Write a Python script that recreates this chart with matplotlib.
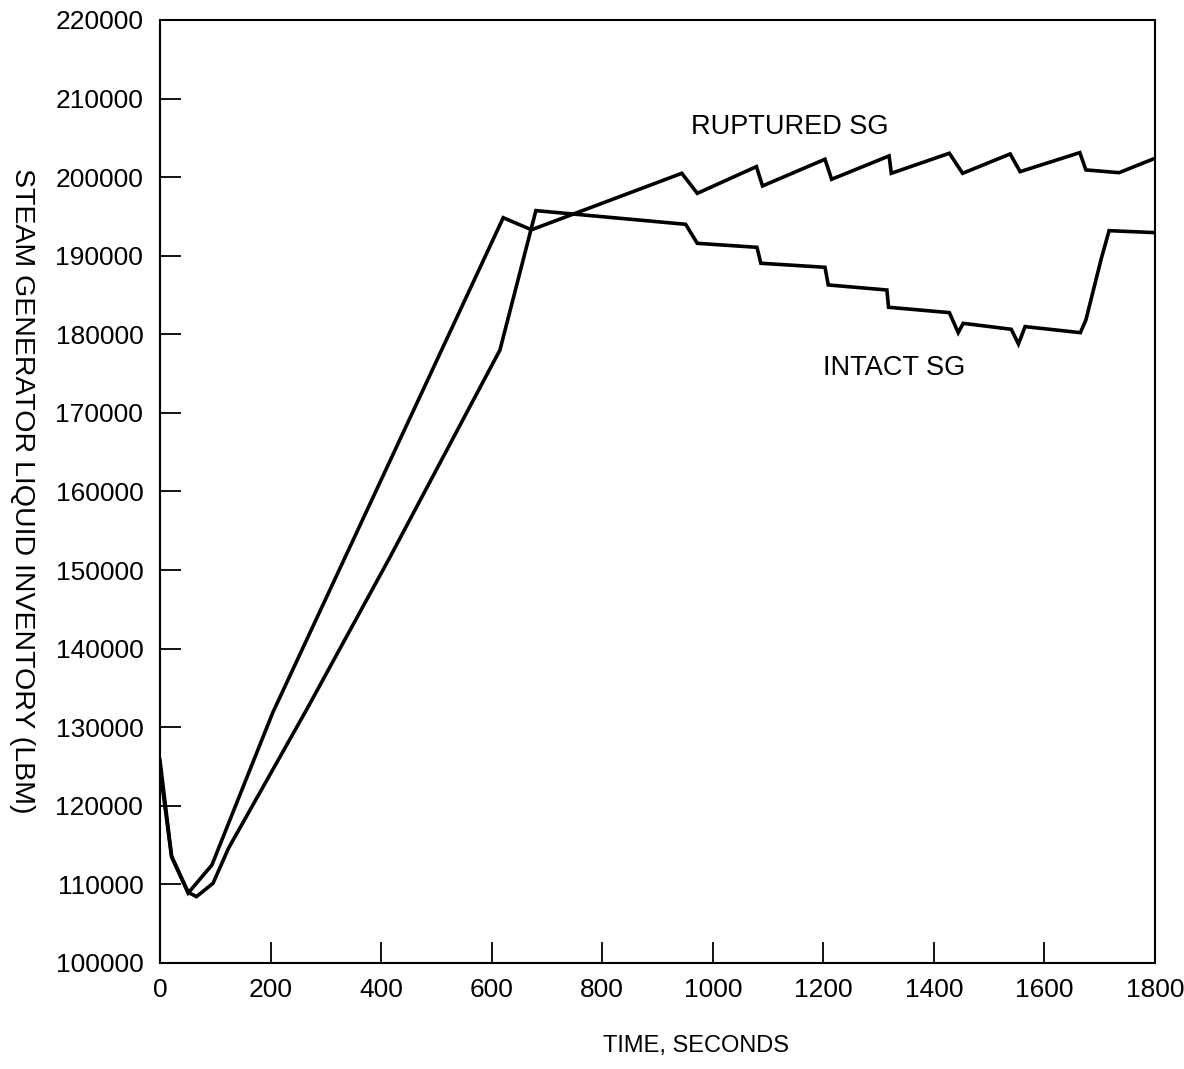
import matplotlib
matplotlib.use("Agg")
import matplotlib.pyplot as plt

plt.rcParams['font.family'] = ['Liberation Sans', 'DejaVu Sans']

# ruptured steam generator inventory (lbm) vs time (s)
rup_t = [0, 21, 51, 94, 204, 621, 672, 944, 972, 1079, 1090, 1203, 1215,
         1319, 1323, 1428, 1452, 1538, 1556, 1664, 1675, 1735, 1800]
rup_m = [124700, 113500, 108900, 112470, 131850, 194840, 193300, 200490, 197940,
         201340, 198880, 202280, 199730, 202700, 200490, 203040, 200490,
         202950, 200700, 203120, 200920, 200570, 202400]

# intact steam generator
int_t = [0, 21, 51, 66, 96, 124, 265, 415, 615, 680, 951, 972, 1080, 1087,
         1203, 1209, 1315, 1318, 1428, 1444, 1453, 1540, 1553, 1565, 1665,
         1675, 1703, 1717, 1800]
int_m = [125800, 113600, 109000, 108440, 110140, 114600, 132200, 151500, 178000,
         195740, 194000, 191580, 191070, 189040, 188530, 186280, 185640, 183440,
         182760, 180210, 181400, 180640, 178770, 180980, 180210, 181830,
         189680, 193190, 192940]

fig = plt.figure(figsize=(11.84, 10.69), dpi=100)
ax = fig.add_axes([0.1351, 0.0992, 0.8404, 0.8821])

ax.plot(rup_t, rup_m, color='black', lw=2.6, solid_joinstyle='miter')
ax.plot(int_t, int_m, color='black', lw=2.6, solid_joinstyle='miter')

ax.set_xlim(0, 1800)
ax.set_ylim(100000, 220000)
ax.set_xticks(range(0, 1801, 200))
ax.set_yticks(range(100000, 220001, 10000))

ax.tick_params(axis='both', direction='in', length=15, width=1.3,
               labelsize=19, colors='black')
ax.tick_params(axis='x', pad=11)
ax.tick_params(axis='y', pad=12)
for s in ax.spines.values():
    s.set_linewidth(1.5)

# axis titles placed by figure coords
fig.text(696 / 1184, (1069 - 1046) / 1069, "TIME, SECONDS",
         fontsize=17, ha='center', va='center')
fig.text(22 / 1184, 0.541, "STEAM GENERATOR LIQUID INVENTORY (LBM)",
         fontsize=20.5, rotation=270, ha='center', va='center')

ax.text(1140, 206400, "RUPTURED SG", fontsize=19.5, ha='center', va='center')
ax.text(1328, 175700, "INTACT SG", fontsize=19.5, ha='center', va='center')

fig.savefig("out.png", dpi=100)
